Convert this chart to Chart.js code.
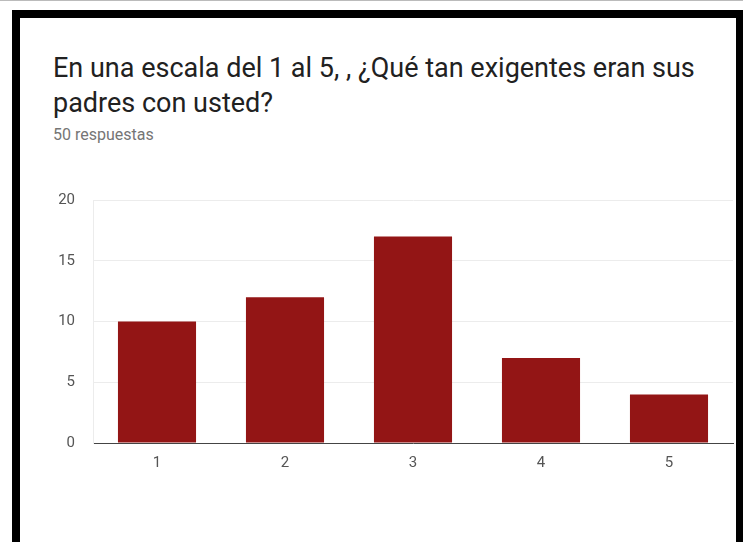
<!DOCTYPE html>
<html>
<head>
<meta charset="utf-8">
<script src="https://cdn.jsdelivr.net/npm/chart.js@4.4.1/dist/chart.umd.min.js"></script>
<style>
  html, body { margin: 0; padding: 0; background: #fff; }
  body { width: 743px; height: 542px; position: relative; overflow: hidden; font-family: Roboto, sans-serif; }
  #frame { position: absolute; left: 12px; top: 10px; width: 716px; height: 540px;
           border-left: 8px solid #000; border-top: 8px solid #000; border-right: 9px solid #000; z-index: 2; pointer-events: none; }
  #topline { position: absolute; left: 0; top: 0; width: 743px; height: 1px; background: #bbb; }
  #title { position: absolute; left: 53px; top: 51px; font-size: 27px; line-height: 35px; color: #212121; white-space: nowrap; }
  #sub { position: absolute; left: 53px; top: 125px; font-size: 16px; color: #757575; }
  #wrap { position: absolute; left: 0; top: 173px; width: 743px; height: 317px; }
</style>
</head>
<body>
<div id="topline"></div>
<div id="frame"></div>
<div id="title">En una escala del 1 al 5, , ¿Qué tan exigentes eran sus<br>padres con usted?</div>
<div id="sub">50 respuestas</div>
<div id="wrap"><canvas id="chart"></canvas></div>
<script>
const categorias = ['1', '2', '3', '4', '5'];
const respuestas = [10, 12, 17, 7, 4];
const ticksY = [0, 5, 10, 15, 20];

new Chart(document.getElementById('chart'), {
    type: 'bar',
    data: {
        labels: categorias,
        datasets: [{
            data: respuestas,
            backgroundColor: '#931515',
            categoryPercentage: 1,
            barPercentage: 0.61,
        }],
    },
    options: {
        responsive: true,
        maintainAspectRatio: false,
        animation: false,
        layout: { padding: { top: 10, right: 10, bottom: 10, left: 0 } },
        plugins: { legend: { display: false }, tooltip: { enabled: false } },
        scales: {
            x: {
                grid: { display: false, drawTicks: false },
                border: { color: '#444', width: 1 },
                ticks: { color: '#555', font: { family: 'Roboto', size: 15 }, padding: 11 },
                afterFit: (s) => { s.height = 37; },
            },
            y: {
                min: 0,
                max: 20,
                afterBuildTicks: (s) => { s.ticks = ticksY.map(v => ({ value: v })); },
                grid: { color: '#ececec', drawTicks: false },
                border: { color: '#ececec' },
                ticks: { color: '#555', font: { family: 'Roboto', size: 15 }, padding: 18 },
                afterFit: (s) => { s.width = 93; },
            },
        },
    },
});
</script>
</body>
</html>
